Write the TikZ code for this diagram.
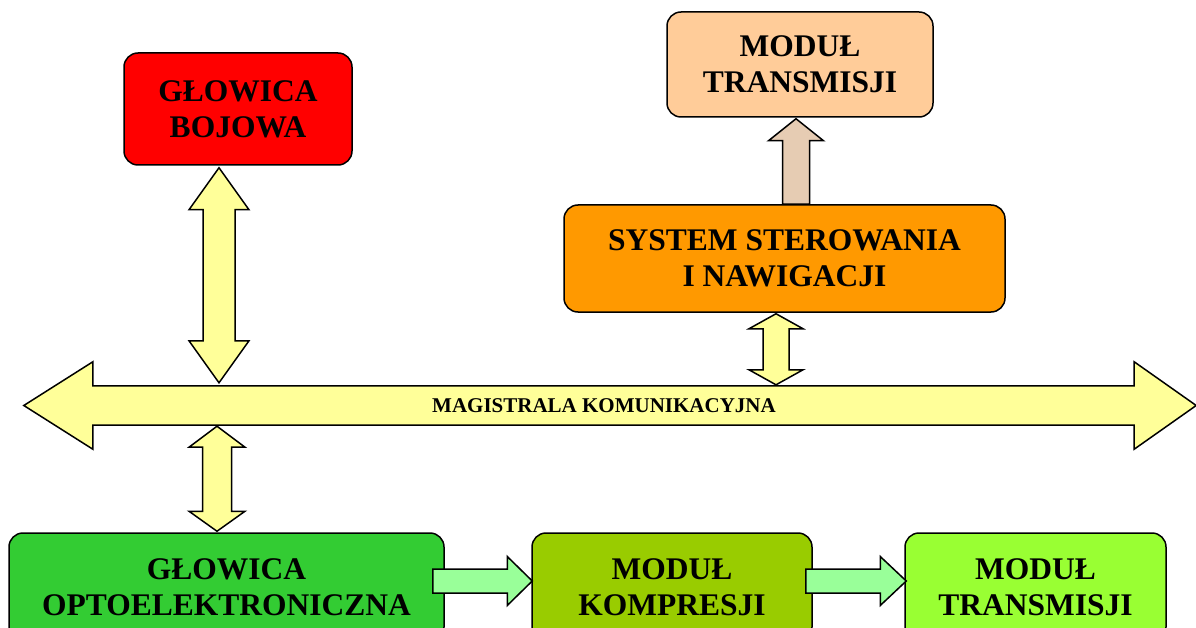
\documentclass[tikz,border=0pt]{standalone}
\usepackage{fontspec}
\setmainfont{Liberation Serif}
\usetikzlibrary{calc}

\definecolor{czerwony}{HTML}{FF0000}
\definecolor{brzoskwinia}{HTML}{FFCC99}
\definecolor{pomarancz}{HTML}{FF9900}
\definecolor{zielony}{HTML}{33CC33}
\definecolor{oliwka}{HTML}{99CC00}
\definecolor{limonka}{HTML}{99FF33}
\definecolor{zolty}{HTML}{FFFF99}
\definecolor{jasnozielony}{HTML}{99FF99}
\definecolor{bez}{HTML}{E6CCB3}

\tikzset{
	blok/.style={draw, line width=1.5pt, rounded corners=14pt, align=center, inner sep=0pt,
		font=\bfseries\fontsize{31.5}{36}\selectfont},
	pas/.style={draw, line width=1.5pt, line join=miter, fill=#1},
	pas/.default=zolty
}

\begin{document}
\begin{tikzpicture}[x=1pt, y=-1pt]
	\useasboundingbox (0,0) rectangle (1196,628);
	\clip (0,0) rectangle (1196,628);
	
	\node[blok, fill=czerwony, minimum width=228, minimum height=112] (bojowa) at (238, 109) {GŁOWICA\\BOJOWA};
	\node[blok, fill=brzoskwinia, minimum width=266, minimum height=105] (transG) at (800, 64.5) {MODUŁ\\TRANSMISJI};
	\node[blok, fill=pomarancz, minimum width=441, minimum height=107] (ster) at (784.5, 258.5) {SYSTEM STEROWANIA\\I NAWIGACJI};
	\node[blok, fill=zielony, minimum width=435, minimum height=108] (opto) at (226.5, 587) {GŁOWICA\\OPTOELEKTRONICZNA};
	\node[blok, fill=oliwka, minimum width=280, minimum height=108] (kompr) at (672, 587) {MODUŁ\\KOMPRESJI};
	\node[blok, fill=limonka, minimum width=261, minimum height=108] (transD) at (1035.5, 587) {MODUŁ\\TRANSMISJI};
	
	% magistrala
	\node[minimum width=1041, minimum height=39, inner sep=0pt] (bus) at (613.5, 405.5) {};
	\draw[pas] (bus.north west) -- ++(0,-24) -- ($(bus.west)+(-69,0)$) -- ($(bus.south west)+(0,24)$)
		-- (bus.south west) -- (bus.south east) -- ++(0,24) -- ($(bus.east)+(62,0)$)
		-- ($(bus.north east)+(0,-24)$) -- (bus.north east) -- cycle;
	\node[font=\bfseries\fontsize{21}{24}\selectfont] (magistrala) at (604, 406) {MAGISTRALA KOMUNIKACYJNA};
	
	\coordinate (k1) at (219,0);
	\coordinate (k2) at (217,0);
	\coordinate (k3) at (776,0);
	\coordinate (k4) at (796,0);
	\coordinate (r) at (0,581);
	
	% bojowa <-> magistrala
	\coordinate (t1) at ($(k1 |- bojowa.south)+(0,2)$);
	\coordinate (b1) at ($(k1 |- bus.north)+(0,-3)$);
	\draw[pas] (t1) -- ++(30,42) -- ++(-14,0) -- ($(b1)+(16,-42)$) -- ++(14,0) -- (b1)
		-- ++(-30,-42) -- ++(14,0) -- ($(t1)+(-16,42)$) -- ++(-14,0) -- cycle;
	
	% magistrala <-> optoelektronika
	\coordinate (t2) at ($(k2 |- bus.south)+(0,1)$);
	\coordinate (b2) at ($(k2 |- opto.north)+(0,-1)$);
	\draw[pas] (t2) -- ++(28,21) -- ++(-13.5,0) -- ($(b2)+(14.5,-20)$) -- ++(13.5,0) -- (b2)
		-- ++(-28,-20) -- ++(13.5,0) -- ($(t2)+(-14.5,21)$) -- ++(-13.5,0) -- cycle;
	
	% sterowanie <-> magistrala
	\coordinate (t3) at ($(k3 |- ster.south)+(0,1)$);
	\coordinate (b3) at ($(k3 |- bus.north)+(0,-1)$);
	\draw[pas] (t3) -- ++(27,15) -- ++(-14,0) -- ($(b3)+(13,-15)$) -- ++(14,0) -- (b3)
		-- ++(-27,-15) -- ++(14,0) -- ($(t3)+(-13,15)$) -- ++(-14,0) -- cycle;
	
	% sterowanie -> transmisja
	\coordinate (t4) at ($(k4 |- transG.south)+(0,1)$);
	\coordinate (b4) at (k4 |- ster.north);
	\draw[pas=bez] (t4) -- ++(27.5,22) -- ++(-14,0) -- ($(b4)+(13.5,0)$) -- ($(b4)+(-13.5,0)$)
		-- ($(t4)+(-13.5,22)$) -- ++(-14,0) -- cycle;
	
	% optoelektronika -> kompresja -> transmisja
	\coordinate (a5) at ($(opto.east |- r)+(-12,0)$);
	\coordinate (c5) at ($(kompr.west |- r)+(1,0)$);
	\draw[pas=jasnozielony] (a5) -- ++(0,-12) -- ($(c5)+(-25,-12)$) -- ++(0,-12.5) -- (c5)
		-- ++(-25,24.5) -- ++(0,-12.5) -- ($(a5)+(0,12)$) -- cycle;
	\coordinate (a6) at ($(kompr.east |- r)+(-7,0)$);
	\coordinate (c6) at ($(transD.west |- r)+(2,0)$);
	\draw[pas=jasnozielony] (a6) -- ++(0,-12) -- ($(c6)+(-26,-12)$) -- ++(0,-12.5) -- (c6)
		-- ++(-26,24.5) -- ++(0,-12.5) -- ($(a6)+(0,12)$) -- cycle;
\end{tikzpicture}
\end{document}
